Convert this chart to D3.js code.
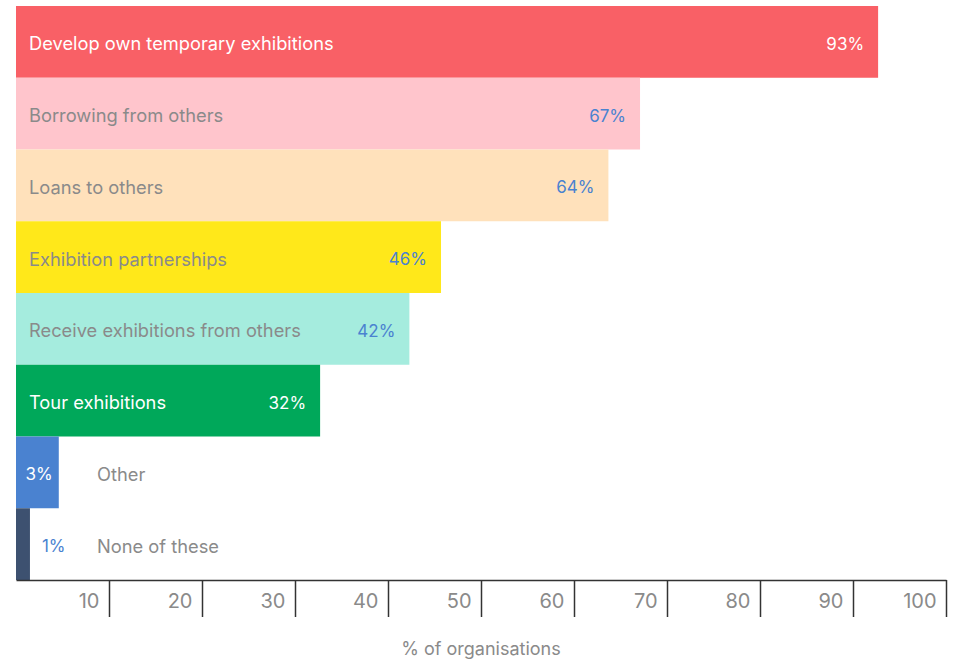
<!DOCTYPE html>
<html>
<head>
<meta charset="utf-8">
<script src="https://cdn.jsdelivr.net/npm/d3@7"></script>
<style>
  body { margin: 0; background: #fff; }
  svg text { font-family: Inter, "Noto Sans", sans-serif; }
</style>
</head>
<body>
<div class="barchart"></div>
<script>
const categories = [
    "Develop own temporary exhibitions",
    "Borrowing from others",
    "Loans to others",
    "Exhibition partnerships",
    "Receive exhibitions from others",
    "Tour exhibitions",
    "Other",
    "None of these"
];
const values = [92.7, 67.1, 63.7, 45.7, 42.3, 32.7, 4.6, 1.5];
const valueLabels = ["93%", "67%", "64%", "46%", "42%", "32%", "3%", "1%"];
const xTicks = [10, 20, 30, 40, 50, 60, 70, 80, 90, 100];

const colors = ["#f96066", "#ffc5cc", "#ffe1bb", "#ffe81a", "#a5ecde", "#00a85a", "#4a82d0", "#3d5170"];
const labelColors = ["#fff", "#8a8a8a", "#8a8a8a", "#8a8a8a", "#8a8a8a", "#fff", "#8a8a8a", "#8a8a8a"];
const valueColors = ["#fff", "#4a82d0", "#4a82d0", "#4a82d0", "#4a82d0", "#fff", "#fff", "#4a82d0"];

const width = 955, height = 660;
const margin = {top: 6, left: 16, right: 9, bottom: 80};

const svg = d3.select('.barchart')
    .append('svg')
    .attr('width', width)
    .attr('height', height);

const xScale = d3.scaleLinear()
    .domain([0, 100])
    .range([margin.left, width - margin.right]);

const yScale = d3.scaleBand()
    .domain(categories)
    .range([margin.top, height - margin.bottom])
    .padding(0);

// bars
svg.selectAll(".bar")
    .data(categories)
    .enter()
    .append("rect")
    .attr("class", "bar")
    .attr("x", xScale(0))
    .attr("y", d => yScale(d))
    .attr("width", (d, i) => xScale(values[i]) - xScale(0))
    .attr("height", yScale.bandwidth())
    .attr("fill", (d, i) => colors[i]);

// small bars get their name outside
const small = i => values[i] < 10;
const mid = d => yScale(d) + yScale.bandwidth() / 2 + 2;

svg.selectAll(".cat")
    .data(categories)
    .enter()
    .append("text")
    .attr("class", "cat")
    .attr("x", (d, i) => small(i) ? 97 : 29)
    .attr("y", mid)
    .attr("dy", "0.35em")
    .attr("font-size", 18.3)
    .attr("fill", (d, i) => labelColors[i])
    .text(d => d);

svg.selectAll(".val")
    .data(categories)
    .enter()
    .append("text")
    .attr("class", "val")
    .attr("x", (d, i) => {
        if (values[i] < 2) return xScale(values[i]) + 12;
        if (small(i)) return xScale(values[i]) - 6;
        return xScale(values[i]) - 14;
    })
    .attr("text-anchor", (d, i) => values[i] < 2 ? "start" : "end")
    .attr("y", mid)
    .attr("dy", "0.35em")
    .attr("font-size", 17)
    .attr("fill", (d, i) => valueColors[i])
    .text((d, i) => valueLabels[i]);

// x axis
const axisY = height - margin.bottom;
const axis = svg.append("g")
    .attr("transform", "translate(0," + axisY + ")")
    .call(d3.axisBottom(xScale).tickValues(xTicks).tickSize(37).tickSizeOuter(0));

axis.select(".domain").attr("stroke", "#333").attr("stroke-width", 1.5);
axis.selectAll(".tick line").attr("stroke", "#333").attr("stroke-width", 1.5);
axis.selectAll(".tick text")
    .attr("text-anchor", "end")
    .attr("x", -10)
    .attr("y", 21)
    .attr("dy", "0.35em")
    .attr("font-size", 20)
    .attr("font-family", "Inter, sans-serif")
    .attr("fill", "#8a8a8a");

svg.append("text")
    .attr("x", (xScale(0) + xScale(100)) / 2)
    .attr("y", 649)
    .attr("dy", "0.35em")
    .attr("text-anchor", "middle")
    .attr("font-size", 18)
    .attr("fill", "#8a8a8a")
    .text("% of organisations");
</script>
</body>
</html>
